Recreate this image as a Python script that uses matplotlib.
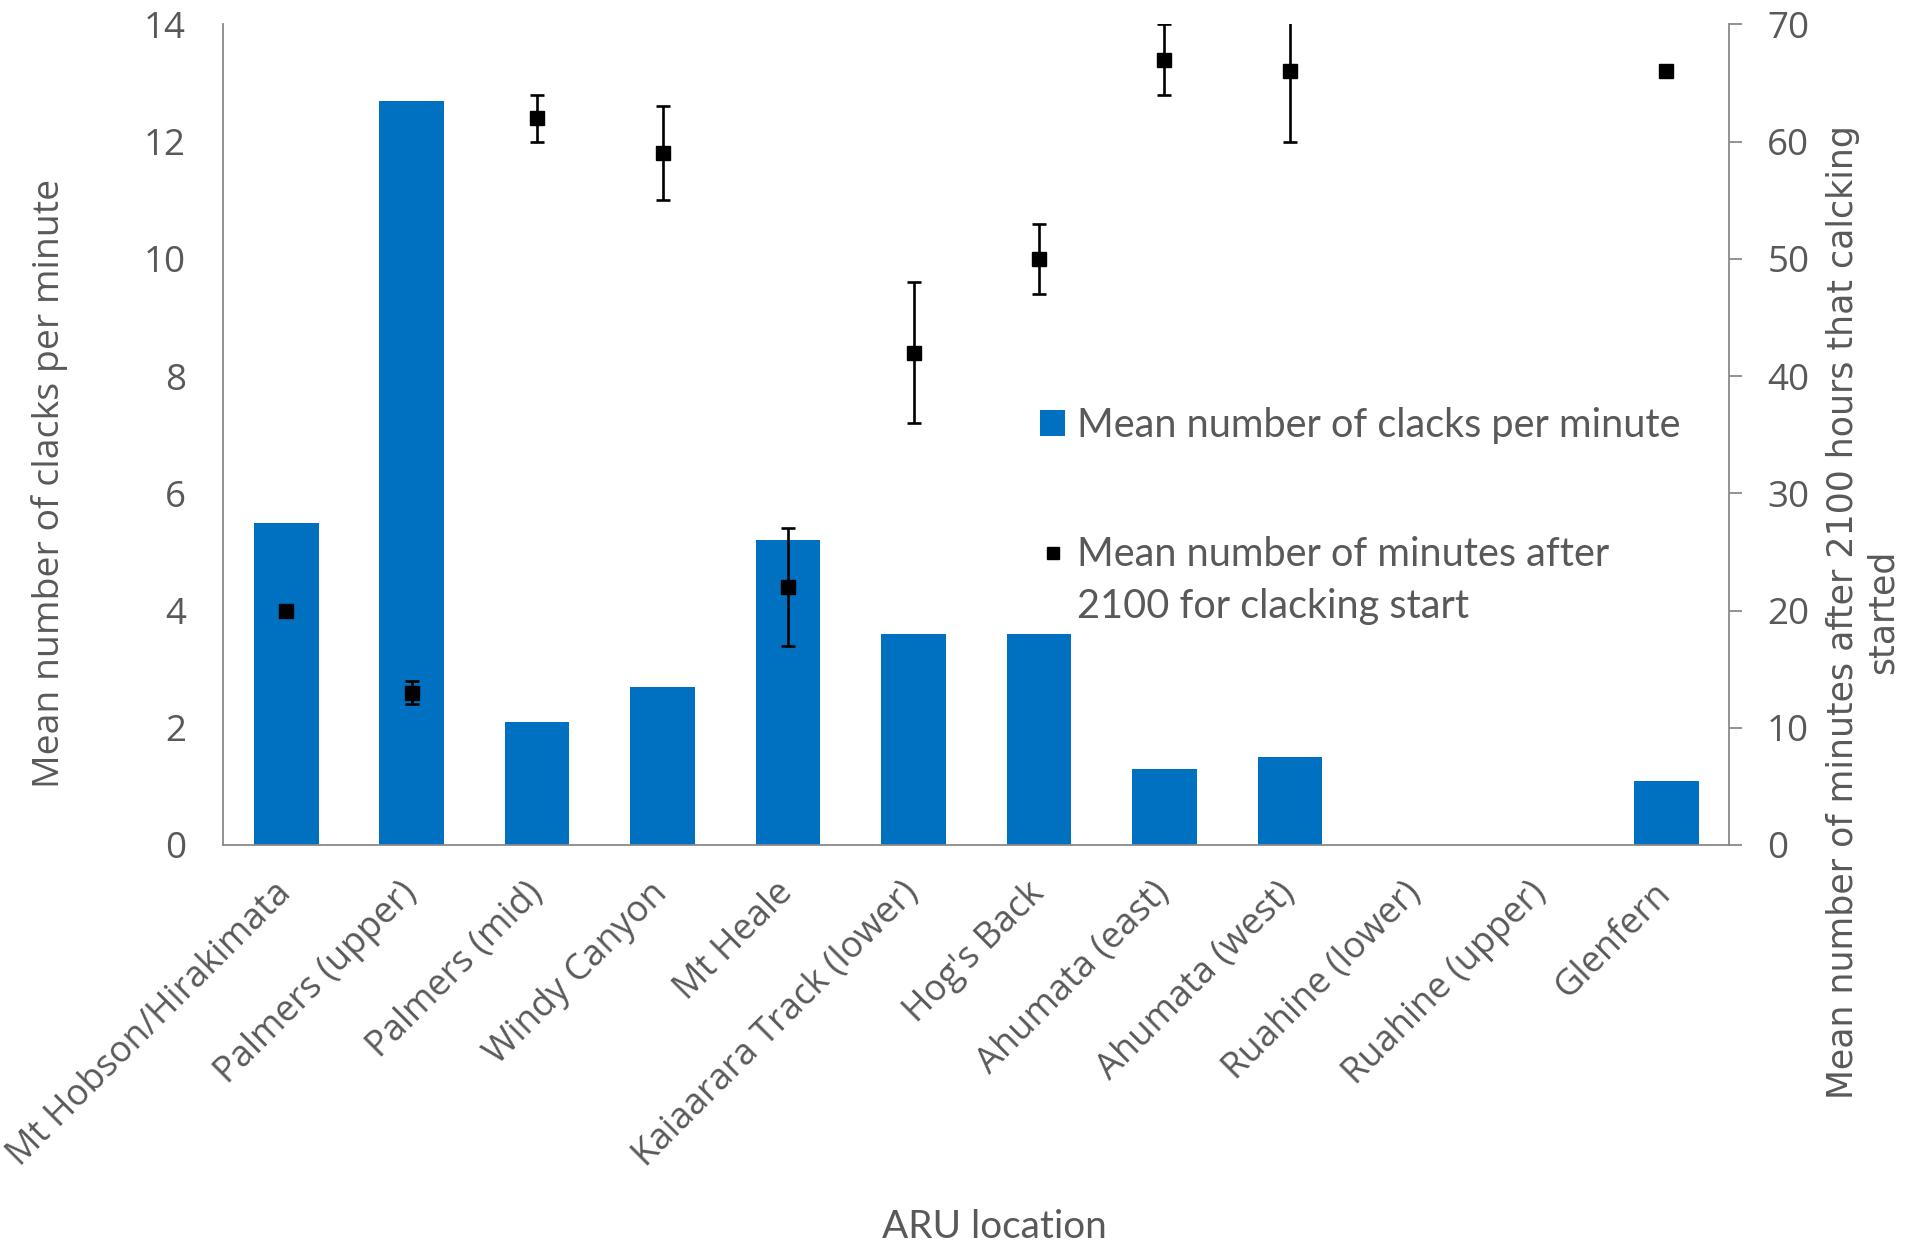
import matplotlib
matplotlib.use("Agg")
import matplotlib.pyplot as plt
from matplotlib.patches import Patch
from matplotlib.lines import Line2D
import numpy as np

# ARU locations and measurements
locations = [
    "Mt Hobson/Hirakimata", "Palmers (upper)", "Palmers (mid)", "Windy Canyon",
    "Mt Heale", "Kaiaarara Track (lower)", "Hog's Back", "Ahumata (east)",
    "Ahumata (west)", "Ruahine (lower)", "Ruahine (upper)", "Glenfern",
]
clacks_per_min = [5.5, 12.7, 2.1, 2.7, 5.2, 3.6, 3.6, 1.3, 1.5, 0.0, 0.0, 1.1]
start_minutes = [20, 13, 62, 59, 22, 42, 50, 67, 66, np.nan, np.nan, 66]
start_err = [0, 1, 2, 4, 5, 6, 3, 3, 6, np.nan, np.nan, 0]

left_ticks = [0, 2, 4, 6, 8, 10, 12, 14]
right_ticks = [0, 10, 20, 30, 40, 50, 60, 70]

BAR_BLUE = "#0070C0"
TEXT_GREY = "#595959"
AXIS_GREY = "#898989"

W, H = 1915, 1246
fig = plt.figure(figsize=(W / 100, H / 100), dpi=100)
ax = fig.add_axes([223.5 / W, 1 - 845 / H, (1729 - 223.5) / W, (845 - 24.4) / H])
ax2 = ax.twinx()

x = np.arange(len(locations))
ax.bar(x, clacks_per_min, width=0.515, color=BAR_BLUE, zorder=2)
ax.set_xlim(-0.5, len(locations) - 0.5)
ax.set_ylim(0, 14)
ax.set_yticks(left_ticks)
ax.set_yticklabels([str(t) for t in left_ticks], fontfamily="Open Sans",
                   fontsize=26.5, color=TEXT_GREY)
ax.tick_params(axis="y", length=0, pad=27)
ax.set_xticks(x)
ax.set_xticklabels(locations, rotation=45, ha="right", va="center",
                   rotation_mode="anchor", fontfamily="Open Sans",
                   fontsize=26, color=TEXT_GREY)
ax.tick_params(axis="x", length=0, pad=31)

ax2.errorbar(x, start_minutes, yerr=start_err, fmt="s", color="black",
             markersize=10.5, elinewidth=1.9, capsize=4.7, capthick=1.9,
             ecolor="black", zorder=3)
ax2.set_ylim(0, 70)
ax2.set_yticks(right_ticks)
ax2.set_yticklabels([str(t) for t in right_ticks], fontfamily="Open Sans",
                    fontsize=26.5, color=TEXT_GREY)
ax2.tick_params(axis="y", length=9.5, width=1.3, color=AXIS_GREY, pad=18)

for a in (ax, ax2):
    a.spines["top"].set_visible(False)
    for side in ("left", "right", "bottom"):
        a.spines[side].set_color(AXIS_GREY)
        a.spines[side].set_linewidth(1.3)
ax.spines["right"].set_visible(False)
ax2.spines["left"].set_visible(False)
ax2.spines["bottom"].set_visible(False)

# Axis titles
fig.text(50 / W, 1 - 483 / H, "Mean number of clacks per minute", rotation=90,
         ha="center", va="center", fontfamily="Open Sans", fontsize=26.9,
         color=TEXT_GREY)
fig.text(1863 / W, 1 - 612 / H,
         "Mean number of minutes after 2100 hours that calcking\nstarted",
         rotation=90, ha="center", va="center", multialignment="center",
         fontfamily="DejaVu Sans", fontsize=25, color=TEXT_GREY, linespacing=1.2)
fig.text(994 / W, 1 - 1227 / H, "ARU location", ha="center", va="center",
         fontfamily="Lato", fontsize=27.9, color=TEXT_GREY)

# Legend
handles = [
    Patch(facecolor=BAR_BLUE, edgecolor="none"),
    Line2D([], [], marker="s", linestyle="none", color="black", markersize=8.5),
]
labels = ["Mean number of clacks per minute",
          "Mean number of minutes after\n2100 for clacking start"]
leg = fig.legend(handles, labels, loc="upper left",
                 bbox_to_anchor=(1040.5 / W, 1 - 407 / H),
                 bbox_transform=fig.transFigure, frameon=False,
                 prop={"family": "Lato", "size": 28.5}, labelcolor=TEXT_GREY,
                 handlelength=0.61, handleheight=0.61, handletextpad=0.3,
                 labelspacing=2.33, borderpad=0, borderaxespad=0)
leg.get_texts()[1].set_linespacing(1.5)
# keep the point marker level with the first line of its label
pt_handle = leg.legend_handles[1]
pt_handle.set_ydata(np.asarray(pt_handle.get_ydata()) + 21.5)

fig.savefig("out.png", dpi=100)
